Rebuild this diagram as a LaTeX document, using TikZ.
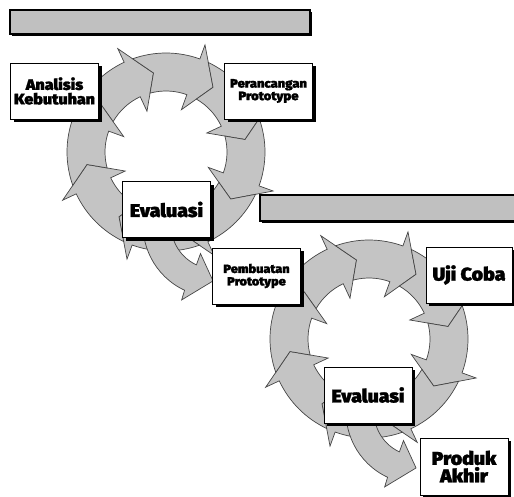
\documentclass[tikz,border=0pt]{standalone}
\usepackage{fontspec}
\newfontfamily\lblfont{Fira Sans Black}[FakeStretch=1.06, FakeBold=1.2]
\usetikzlibrary{shadows}
\definecolor{ringgray}{HTML}{C4C4C4}
\definecolor{bargray}{HTML}{C0C0C0}
\definecolor{edgegray}{HTML}{454545}

\begin{document}
\begin{tikzpicture}[x=1pt,y=-1pt,
  ringarrow/.style={fill=ringgray, draw=edgegray, line width=0.7pt, line join=miter},
  stepbox/.style={draw=black, line width=0.8pt, fill=white,
    minimum width=88pt, minimum height=56pt, inner sep=0pt, align=center,
    font=\lblfont,
    drop shadow={shadow xshift=3pt, shadow yshift=-3pt, fill=black, opacity=1}},
  titlebar/.style={draw=black, line width=1.2pt, fill=bargray, inner sep=0pt,
    drop shadow={shadow xshift=1.5pt, shadow yshift=-1.5pt, fill=black, opacity=1}}
]
\useasboundingbox (0,0) rectangle (514,496);
\clip (0,0) rectangle (514,496);

% ring geometry (px): body radii, mid radius, barb radii, head length (deg)
\def\Rin{61}\def\Rout{99}\def\Rm{80}\def\rbo{114}\def\rbi{45}\def\hl{16}
% angles where the edges of a head cross the ring borders (scaled by 1/100)
\pgfmathsetmacro\axo{(\rbo*cos(\hl)-\Rm)/100}
\pgfmathsetmacro\ayo{\rbo*sin(\hl)/100}
\pgfmathsetmacro\Ao{\axo*\axo+\ayo*\ayo}
\pgfmathsetmacro\Bo{2*\Rm/100*\axo}
\pgfmathsetmacro\Co{(\Rm*\Rm-\Rout*\Rout)/10000}
\pgfmathsetmacro\so{(-\Bo+sqrt(\Bo*\Bo-4*\Ao*\Co))/(2*\Ao)}
\pgfmathsetmacro\dlo{atan2(\so*\ayo,\Rm/100+\so*\axo)}
\pgfmathsetmacro\axi{(\rbi*cos(\hl)-\Rm)/100}
\pgfmathsetmacro\ayi{\rbi*sin(\hl)/100}
\pgfmathsetmacro\Ai{\axi*\axi+\ayi*\ayi}
\pgfmathsetmacro\Bi{2*\Rm/100*\axi}
\pgfmathsetmacro\Ci{(\Rm*\Rm-\Rin*\Rin)/10000}
\pgfmathsetmacro\si{(-\Bi-sqrt(\Bi*\Bi-4*\Ai*\Ci))/(2*\Ai)}
\pgfmathsetmacro\dli{atan2(\si*\ayi,\Rm/100+\si*\axi)}

% the two cycles of eight clockwise arrows
\foreach \cx/\cy in {166/152, 369/339}{
  \begin{scope}[shift={(\cx,\cy)}, yscale=-1]
    \foreach \t in {99,54,9,-36,-81,-126,-171,-216}{
      \pgfmathsetmacro\p{\t+45}
      \pgfmathsetmacro\h{\t+\hl}
      \pgfmathsetmacro\ao{\p+\dlo}
      \pgfmathsetmacro\ai{\p+\dli}
      \filldraw[ringarrow] (\ao:\Rout) arc[start angle=\ao, end angle=\h, radius=\Rout]
        -- (\h:\rbo) -- (\t:\Rm) -- (\h:\rbi) -- (\h:\Rin)
        arc[start angle=\h, end angle=\ai, radius=\Rin] -- (\p:\Rm) -- cycle;
    }
  \end{scope}
}

% curved exit arrows leaving each evaluation step
\foreach \sx/\sy in {215/225, 418/412}{
  \begin{scope}[shift={(\sx,\sy)}, yscale=-1]
    \filldraw[ringarrow] (170:72) arc[start angle=170, end angle=245, radius=72]
      -- (246:82) -- (268:56) -- (243:32) -- (245:44)
      arc[start angle=245, end angle=170, radius=44] -- cycle;
  \end{scope}
}

% title bars
\node[titlebar, minimum width=300pt, minimum height=24pt] (bar1) at (160,22) {};
\node[titlebar, minimum width=260pt, minimum height=26pt] (bar2) at (390,208) {};

% steps of the first cycle
\node[stepbox, font=\lblfont\fontsize{15.2}{14.5}\selectfont] (ana) at (54.5,91) {Analisis\\Kebutuhan};
\node[stepbox, font=\lblfont\fontsize{12.3}{12.5}\selectfont] (per) at (268.5,91) {Perancangan\\Prototype};
\node[stepbox, font=\lblfont\fontsize{18.5}{18}\selectfont] (ev1) at (166.5,209.5) {Evaluasi};

% steps of the second cycle
\node[stepbox, font=\lblfont\fontsize{12}{12.5}\selectfont] (pem) at (256.5,276) {Pembuatan\\Prototype};
\node[stepbox, minimum width=86pt, font=\lblfont\fontsize{18.5}{18}\selectfont] (uji) at (469,275) {Uji Coba};
\node[stepbox, font=\lblfont\fontsize{18.5}{18}\selectfont] (ev2) at (368,395) {Evaluasi};
\node[stepbox, minimum height=57pt, font=\lblfont\fontsize{18.5}{17.5}\selectfont] (pro) at (464,466.5) {Produk\\Akhir};
\end{tikzpicture}
\end{document}
